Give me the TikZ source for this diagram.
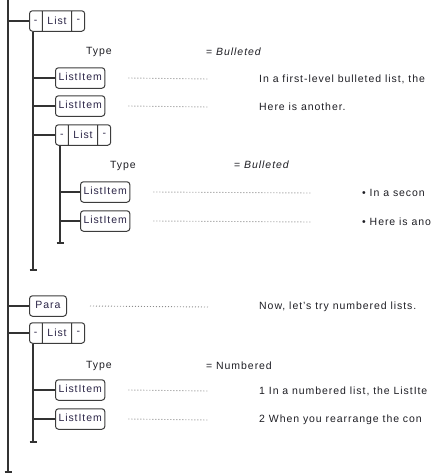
\documentclass[tikz,border=0pt]{standalone}
\usepackage{fontspec}
\setmainfont{Liberation Sans}[LetterSpace=9]
\usepackage{tikz}
\usetikzlibrary{shapes.multipart,positioning,calc}
\definecolor{railc}{HTML}{333333}
\definecolor{boxbd}{HTML}{3C3C3C}
\definecolor{tagtxt}{HTML}{2A2446}
\definecolor{bodytxt}{HTML}{1E1E24}
\definecolor{leaderc}{HTML}{8C8C8C}
\tikzset{
  tagbox/.style={draw=boxbd,rounded corners=3pt,line width=1pt,
                 inner xsep=3pt,inner ysep=5pt,text height=8pt,text depth=2.5pt,
                 text=tagtxt,font=\fontsize{10.5}{12}\selectfont},
  listbox/.style={tagbox,rectangle split,rectangle split horizontal,
                  rectangle split parts=3,inner xsep=4.5pt},
  rail/.style={draw=railc,line width=1.1pt},
  railtick/.style={draw=railc,line width=1.6pt},
  leader/.style={draw=leaderc,line width=0.9pt,dash pattern=on 1pt off 2pt},
  attrname/.style={anchor=west,inner sep=0pt,text=bodytxt,
                   font=\fontsize{10.5}{12}\selectfont},
  content/.style={anchor=west,inner sep=0pt,text=bodytxt,
                  font=\fontsize{10.5}{12}\selectfont},
}

\begin{document}
\begin{tikzpicture}[x=1pt,y=-1pt]
  \useasboundingbox (0,0) rectangle (434,474);
  \clip (0,0) rectangle (434,474);

  \coordinate (root) at (8,0);
  \coordinate (rootend) at (8,472);

  % first list
  \node[listbox,anchor=west] (l1) at (29,21) {-\nodepart{two}List\nodepart{three}-};
  \node[attrname] (ty1) at (86,52) {Type};
  \node[attrname] (tv1) at (206,52) {= \textit{Bulleted}};
  \node[tagbox,anchor=west] (li1) at (55,78) {ListItem};
  \node[content] (t1) at (259,79) {In a first-level bulleted list, the};
  \node[tagbox,anchor=west] (li2) at (55,106) {ListItem};
  \node[content] (t2) at (259,107) {Here is another.};

  % nested list
  \node[listbox,anchor=west] (l2) at (55,135) {-\nodepart{two}List\nodepart{three}-};
  \node[attrname] (ty2) at (110,166) {Type};
  \node[attrname] (tv2) at (234,165) {= \textit{Bulleted}};
  \node[tagbox,anchor=west] (li3) at (80,192) {ListItem};
  \node[content] (t3) at (362,193) {• In a secon};
  \node[tagbox,anchor=west] (li4) at (80,221) {ListItem};
  \node[content] (t4) at (362,222) {• Here is ano};

  % para
  \node[tagbox,anchor=west,minimum width=37pt] (p1) at (29,306) {Para};
  \node[content] (t5) at (259,307) {Now, let's try numbered lists.};

  % numbered list
  \node[listbox,anchor=west] (l3) at (29,333) {-\nodepart{two}List\nodepart{three}-};
  \node[attrname] (ty3) at (86,366) {Type};
  \node[attrname] (tv3) at (206,366) {= Numbered};
  \node[tagbox,anchor=west] (li5) at (55,390) {ListItem};
  \node[content] (t6) at (259,391) {1 In a numbered list, the ListIte};
  \node[tagbox,anchor=west] (li6) at (55,419) {ListItem};
  \node[content] (t7) at (259,420) {2 When you rearrange the con};

  % rails
  \coordinate (r1) at ([xshift=4pt]l1.south west);
  \coordinate (r1end) at (r1 |- 0,270);
  \coordinate (r2) at ([xshift=5pt]l2.south west);
  \coordinate (r2end) at (r2 |- 0,243);
  \coordinate (r3) at ([xshift=4pt]l3.south west);
  \coordinate (r3end) at (r3 |- 0,442);

  \draw[rail] (root) -- (rootend);
  \draw[rail] (r1) -- (r1end);
  \draw[rail] (r2) -- (r2end);
  \draw[rail] (r3) -- (r3end);
  \foreach \e in {rootend,r1end,r2end,r3end}
    \draw[railtick] ([xshift=-3.5pt]\e) -- ([xshift=3.5pt]\e);

  \foreach \n/\r in {l1/root,p1/root,l3/root,li1/r1,li2/r1,l2/r1,li3/r2,li4/r2,li5/r3,li6/r3}
    \draw[rail] (\n.west -| \r) -- (\n.west);

  % leaders
  \foreach \n/\t in {li1/t1,li2/t2,li3/t3,li4/t4,p1/t5,li5/t6,li6/t7}
    \draw[leader] ([xshift=23pt]\n.east) -- ([xshift=-51pt]\t.west);
\end{tikzpicture}
\end{document}
